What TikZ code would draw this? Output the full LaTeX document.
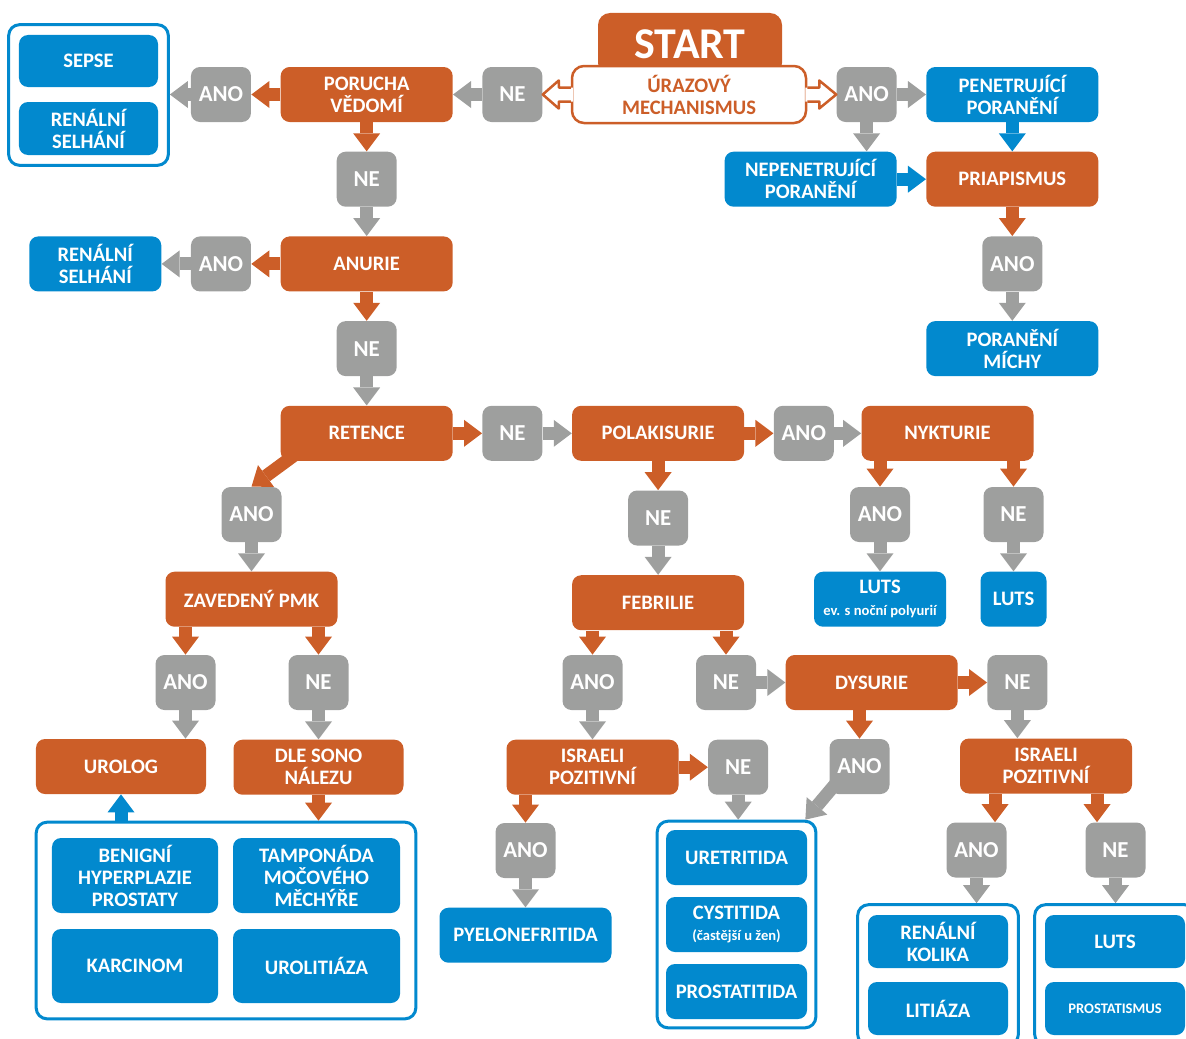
\documentclass[tikz,border=0pt]{standalone}
\usepackage{fontspec}
\setmainfont{Carlito}
\usepackage{tikz}
\usetikzlibrary{arrows.meta, positioning, calc, fit}
\definecolor{myorange}{RGB}{204,94,40}
\definecolor{myblue}{RGB}{2,137,206}
\definecolor{mygrey}{RGB}{158,159,158}
\newcommand{\smalltxt}{\fontsize{8.3}{9}\selectfont\bfseries}
\tikzset{
  flowbox/.style={rectangle, rounded corners=1.8mm, inner sep=0pt, align=center,
    text=white, font=\fontsize{11.7}{12.5}\selectfont\bfseries, minimum height=11mm},
  obox/.style={flowbox, fill=myorange, minimum width=34.4mm},
  bbox/.style={flowbox, fill=myblue, minimum width=34.4mm},
  gbox/.style={flowbox, fill=mygrey, minimum width=12mm,
    font=\fontsize{13}{14}\selectfont\bfseries},
  grpbox/.style={rectangle, draw=myblue, line width=0.6mm, rounded corners=2.2mm},
  oarrow/.style={-{Triangle[width=5.4mm, length=3.6mm, line width=0pt]}, line width=2.6mm, draw=myorange},
  garrow/.style={-{Triangle[width=5.4mm, length=3.6mm, line width=0pt]}, line width=2.6mm, draw=mygrey},
  barrow/.style={-{Triangle[width=5.4mm, length=3.6mm, line width=0pt]}, line width=2.6mm, draw=myblue}
}

\begin{document}
\begin{tikzpicture}[x=0.2mm, y=-0.2mm, node distance=5.8mm]
  \useasboundingbox (0,0) rectangle (1186,1039);

  % Start
  \node[obox, minimum width=36.8mm, minimum height=12.4mm, rounded corners=2.4mm,
    font=\fontsize{25}{28}\selectfont\bfseries] (start) at (690,44) {START};
  \node[rectangle, draw=myorange, fill=white, line width=0.5mm, rounded corners=2.4mm,
    minimum width=46.8mm, minimum height=11.4mm, inner sep=0pt, align=center,
    text=myorange, font=\fontsize{11.7}{12.5}\selectfont\bfseries] (uraz) at (689,94.5) {ÚRAZOVÝ\\MECHANISMUS};

  % Top row
  \node[gbox, left=5.6mm of uraz] (ne1) {NE};
  \node[obox, left=of ne1] (porucha) {PORUCHA\\VĚDOMÍ};
  \node[gbox, left=of porucha] (ano1) {ANO};
  \node[bbox, minimum width=27.8mm, minimum height=10.4mm] (sepse) at (88.5,61) {SEPSE};
  \node[bbox, minimum width=27.8mm, minimum height=10.6mm] (ren1) at (88.5,128.5) {RENÁLNÍ\\SELHÁNÍ};
  \node[grpbox, fit=(sepse)(ren1), inner sep=2mm] (grp0) {};
  \node[gbox, right=of uraz] (ano2) {ANO};
  \node[bbox, right=of ano2] (pen) {PENETRUJÍCÍ\\PORANĚNÍ};
  \node[obox, below=of pen] (priap) {PRIAPISMUS};
  \node[bbox, left=of priap] (nepen) {NEPENETRUJÍCÍ\\PORANĚNÍ};
  \node[gbox, below=of priap] (ano4) {ANO};
  \node[bbox, below=of ano4] (michy) {PORANĚNÍ\\MÍCHY};

  % Left column
  \node[gbox, below=of porucha] (ne3) {NE};
  \node[obox, below=of ne3] (anurie) {ANURIE};
  \node[gbox, left=of anurie] (ano3) {ANO};
  \node[bbox, left=of ano3, minimum width=26.4mm] (ren2) {RENÁLNÍ\\SELHÁNÍ};
  \node[gbox, below=of anurie] (ne4) {NE};
  \node[obox, below=of ne4] (retence) {RETENCE};

  % Retence row
  \node[gbox, right=of retence] (ne5) {NE};
  \node[obox, right=of ne5] (polak) {POLAKISURIE};
  \node[gbox, right=of polak] (ano5) {ANO};
  \node[obox, right=5.4mm of ano5] (nykt) {NYKTURIE};
  \node[gbox] (ano7) at (880,514.5) {ANO};
  \node[gbox] (ne7) at (1013.5,514.5) {NE};
  \node[bbox, below=of ano7, minimum width=26.4mm] (luts1) {LUTS\\{\smalltxt ev. s noční polyurií}};
  \node[bbox, below=of ne7, minimum width=13.2mm] (luts2) {LUTS};

  % Zavedeny PMK branch
  \node[gbox] (ano6) at (251.5,514.5) {ANO};
  \node[obox, below=of ano6] (zaved) {ZAVEDENÝ PMK};
  \node[gbox] (ano8) at (185.5,682.5) {ANO};
  \node[gbox] (ne8) at (318.5,682.5) {NE};
  \node[obox, minimum width=34mm] (urolog) at (121,766.5) {UROLOG};
  \node[obox, below=of ne8, minimum width=34mm] (dle) {DLE SONO\\NÁLEZU};
  \node[bbox, minimum width=33.2mm, minimum height=15mm] (benign) at (135,875.5) {BENIGNÍ\\HYPERPLAZIE\\PROSTATY};
  \node[bbox, minimum width=33.4mm, minimum height=15mm] (tampon) at (316.5,875.5) {TAMPONÁDA\\MOČOVÉHO\\MĚCHÝŘE};
  \node[bbox, minimum width=33.2mm, minimum height=14.8mm] (karcin) at (135,966) {KARCINOM};
  \node[bbox, minimum width=33.4mm, minimum height=14.8mm] (urolit) at (316.5,966) {UROLITIÁZA};
  \node[grpbox, fit=(benign)(urolit), inner sep=3.1mm] (grp1) {};

  % Polakisurie branch
  \node[gbox, below=of polak] (ne6) {NE};
  \node[obox, below=of ne6] (febr) {FEBRILIE};
  \node[gbox] (ano9) at (592.5,682.5) {ANO};
  \node[gbox] (ne9) at (726,682.5) {NE};
  \node[obox, right=of ne9] (dysur) {DYSURIE};
  \node[gbox, right=of dysur] (ne10) {NE};
  \node[obox, below=of ano9] (isr1) {ISRAELI\\POZITIVNÍ};
  \node[gbox, right=of isr1] (ne11) {NE};
  \node[gbox] (ano10) at (859.5,766.5) {ANO};
  \node[obox] (isr2) at (1046,766) {ISRAELI\\POZITIVNÍ};
  \node[gbox] (ano11) at (525.5,850.5) {ANO};
  \node[bbox, below=of ano11] (pyelo) {PYELONEFRITIDA};
  \node[bbox, minimum width=28.2mm] (uretr) at (736.5,857.5) {URETRITIDA};
  \node[bbox, minimum width=28.2mm] (cyst) at (736.5,924.5) {CYSTITIDA\\{\smalltxt (častější u žen)}};
  \node[bbox, minimum width=28.2mm] (prostat) at (736.5,991.5) {PROSTATITIDA};
  \node[grpbox, fit=(uretr)(prostat), inner sep=1.7mm] (grp2) {};
  \node[gbox] (ano12) at (976.5,850) {ANO};
  \node[gbox] (ne12) at (1115.5,850) {NE};
  \node[bbox, minimum width=28mm, minimum height=10.6mm] (kolika) at (938,941.5) {RENÁLNÍ\\KOLIKA};
  \node[bbox, minimum width=28mm, minimum height=10.6mm] (litiaza) at (938,1008.5) {LITIÁZA};
  \node[grpbox, fit=(kolika)(litiaza), inner sep=2mm] (grp3) {};
  \node[bbox, minimum width=28mm, minimum height=10.6mm] (luts3) at (1115,941.5) {LUTS};
  \node[bbox, minimum width=28mm, minimum height=10.6mm] (prostatism) at (1115,1008.5) {\smalltxt PROSTATISMUS};
  \node[grpbox, fit=(luts3)(prostatism), inner sep=2mm] (grp4) {};

  % Outlined arrows from the start box
  \foreach \side/\tip/\s in {east/ano2.west/1, west/ne1.east/-1} {
    \fill[white] ($(uraz.\side)+(-\s*2,-7)$) -- ($(uraz.\side)+(\s*12,-7)$) -- ($(uraz.\side)+(\s*12,-14)$)
      -- (\tip) -- ($(uraz.\side)+(\s*12,14)$) -- ($(uraz.\side)+(\s*12,7)$) -- ($(uraz.\side)+(-\s*2,7)$) -- cycle;
    \draw[myorange, line width=0.5mm, line join=round] ($(uraz.\side)+(0,-7)$) -- ($(uraz.\side)+(\s*12,-7)$)
      -- ($(uraz.\side)+(\s*12,-14)$) -- (\tip) -- ($(uraz.\side)+(\s*12,14)$) -- ($(uraz.\side)+(\s*12,7)$)
      -- ($(uraz.\side)+(0,7)$);
  }

  % Orange arrows
  \draw[oarrow] (porucha) -- (ano1);
  \draw[oarrow] (porucha) -- (ne3);
  \draw[oarrow] (anurie) -- (ano3);
  \draw[oarrow] (anurie) -- (ne4);
  \draw[oarrow] (priap) -- (ano4);
  \draw[oarrow] (retence) -- (ne5);
  \draw[oarrow] ($(retence.south west)+(14,-6)$) -- (ano6.north);
  \draw[oarrow] (polak) -- (ano5);
  \draw[oarrow] (polak) -- (ne6);
  \draw[oarrow] (nykt.south -| ano7) -- (ano7);
  \draw[oarrow] (nykt.south -| ne7) -- (ne7);
  \draw[oarrow] (zaved.south -| ano8) -- (ano8);
  \draw[oarrow] (zaved.south -| ne8) -- (ne8);
  \draw[oarrow] (febr.south -| ano9) -- (ano9);
  \draw[oarrow] (febr.south -| ne9) -- (ne9);
  \draw[oarrow] (dysur) -- (ne10);
  \draw[oarrow] (dysur.south -| ano10) -- (ano10);
  \draw[oarrow] (isr1) -- (ne11);
  \draw[oarrow] (isr1.south -| ano11) -- (ano11);
  \draw[oarrow] ([xshift=3.7mm]ano12.north |- isr2.south) -- ([xshift=3.7mm]ano12.north);
  \draw[oarrow] ([xshift=-3.7mm]ne12.north |- isr2.south) -- ([xshift=-3.7mm]ne12.north);
  \draw[oarrow] (dle) -- (dle |- grp1.north);

  % Grey arrows
  \draw[garrow] (ano1) -- (ano1 -| grp0.east);
  \draw[garrow] (ne1) -- (porucha);
  \draw[garrow] (ano2) -- (pen);
  \draw[garrow] (ano2) -- (ano2 |- nepen.north);
  \draw[garrow] (ne3) -- (anurie);
  \draw[garrow] (ano3) -- (ren2);
  \draw[garrow] (ne4) -- (retence);
  \draw[garrow] (ano4) -- (michy);
  \draw[garrow] (ne5) -- (polak);
  \draw[garrow] (ano5) -- (nykt);
  \draw[garrow] (ano7) -- (luts1);
  \draw[garrow] (ne7) -- (luts2);
  \draw[garrow] (ano6) -- (zaved);
  \draw[garrow] (ne6) -- (febr);
  \draw[garrow] (ano8) -- (ano8 |- urolog.north);
  \draw[garrow] (ne8) -- (dle);
  \draw[garrow] (ano9) -- (isr1);
  \draw[garrow] (ne9) -- (dysur);
  \draw[garrow] (ne10) -- (ne10 |- isr2.north);
  \draw[garrow] (ano11) -- (pyelo);
  \draw[garrow] (ne11) -- (ne11 |- grp2.north);
  \draw[garrow] ($(ano10.south west)+(6,-10)$) -- ([xshift=-2.4mm]grp2.north east);
  \draw[garrow] (ano12) -- (ano12 |- grp3.north);
  \draw[garrow] (ne12) -- (ne12 |- grp4.north);

  % Blue arrows
  \draw[barrow] (pen) -- (priap);
  \draw[barrow] (nepen) -- (priap);
  \draw[barrow] (grp1.north -| urolog) -- (urolog);
\end{tikzpicture}
\end{document}
